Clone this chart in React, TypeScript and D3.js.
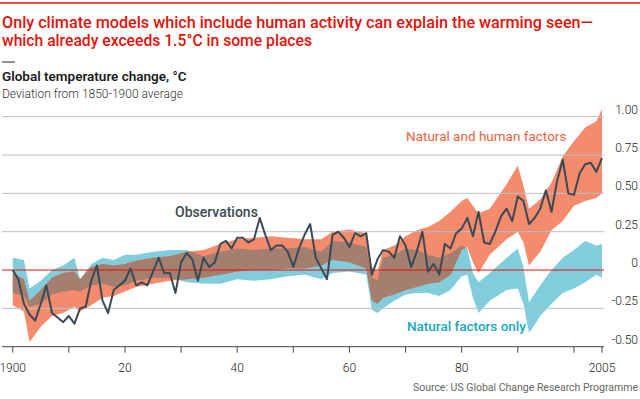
import React from "react";
import * as d3 from "d3";

const obsYears = d3.range(1900, 2006);
const obsValues = [
  0.0, -0.06, -0.22, -0.29, -0.33, -0.22, -0.1, -0.28, -0.31, -0.34,
  -0.3, -0.35, -0.25, -0.24, -0.07, 0.03, -0.2, -0.28, -0.13, -0.1,
  -0.07, 0.01, -0.1, -0.08, -0.1, -0.01, 0.08, -0.02, -0.02, -0.15,
  0.05, 0.11, 0.07, -0.07, 0.08, 0.02, 0.05, 0.17, 0.19, 0.14,
  0.21, 0.21, 0.18, 0.2, 0.34, 0.23, 0.13, 0.16, 0.16, 0.12,
  0.02, 0.14, 0.23, 0.3, 0.08, 0.01, -0.06, 0.23, 0.25, 0.21,
  0.15, 0.24, 0.22, 0.24, -0.03, 0.07, 0.13, 0.12, 0.08, 0.22,
  0.16, 0.02, 0.12, 0.25, -0.01, 0.04, -0.03, 0.17, 0.14, 0.24,
  0.27, 0.34, 0.22, 0.38, 0.18, 0.17, 0.25, 0.35, 0.4, 0.32,
  0.48, 0.45, 0.3, 0.34, 0.4, 0.52, 0.38, 0.58, 0.72, 0.5,
  0.49, 0.63, 0.69, 0.7, 0.64, 0.73,
];

// model ranges, sampled at these years
const bandYears = [
  1900, 1902, 1903, 1905, 1907, 1909, 1911, 1912, 1914, 1916, 1918, 1920, 1922,
  1925, 1928, 1931, 1934, 1937, 1940, 1943, 1946, 1949, 1952, 1955, 1957, 1960,
  1963, 1964, 1965, 1966, 1968, 1970, 1972, 1974, 1976, 1978, 1980, 1981, 1982,
  1983, 1985, 1988, 1990, 1991, 1992, 1994, 1996, 1998, 2000, 2002, 2004, 2005,
];
const humanLow = [
  -0.23, -0.27, -0.47, -0.37, -0.3, -0.28, -0.24, -0.27, -0.23, -0.18, -0.17, -0.14, -0.11,
  -0.09, -0.07, -0.06, -0.05, -0.03, -0.01, 0.0, 0.0, 0.01, 0.01, 0.03, 0.065, 0.05,
  0.01, -0.2, -0.22, -0.18, -0.16, -0.13, -0.11, -0.09, -0.08, -0.03, 0.13, 0.15, 0.05,
  -0.02, 0.1, 0.2, 0.25, 0.18, 0.03, 0.12, 0.26, 0.32, 0.42, 0.45, 0.47, 0.5,
];
const humanHigh = [
  -0.02, -0.06, -0.2, -0.13, -0.05, -0.02, -0.01, -0.06, 0.02, 0.04, 0.03, 0.04, 0.06,
  0.08, 0.09, 0.12, 0.13, 0.17, 0.2, 0.21, 0.22, 0.21, 0.2, 0.2, 0.25, 0.265,
  0.24, 0.02, -0.01, 0.13, 0.16, 0.22, 0.26, 0.28, 0.32, 0.38, 0.45, 0.47, 0.42,
  0.37, 0.4, 0.56, 0.68, 0.55, 0.4, 0.46, 0.57, 0.74, 0.84, 0.93, 0.97, 1.05,
];
const naturalLow = [
  -0.15, -0.17, -0.24, -0.22, -0.16, -0.14, -0.13, -0.14, -0.1, -0.09, -0.11, -0.1, -0.07,
  -0.05, -0.05, -0.08, -0.09, -0.09, -0.06, -0.07, -0.06, -0.04, -0.03, -0.06, -0.02, -0.01,
  -0.03, -0.26, -0.28, -0.25, -0.2, -0.16, -0.15, -0.15, -0.17, -0.13, -0.04, -0.03, -0.18,
  -0.28, -0.2, -0.13, -0.12, -0.22, -0.41, -0.3, -0.22, -0.15, -0.12, -0.08, -0.03, -0.05,
];
const naturalHigh = [
  0.08, 0.065, -0.12, -0.07, 0.0, 0.03, 0.08, -0.06, 0.04, 0.08, 0.065, 0.1, 0.1,
  0.12, 0.13, 0.13, 0.09, 0.12, 0.14, 0.13, 0.14, 0.14, 0.15, 0.12, 0.19, 0.18,
  0.15, -0.05, -0.065, 0.08, 0.1, 0.14, 0.13, 0.1, 0.08, 0.11, 0.16, 0.14, -0.02,
  -0.08, -0.02, 0.08, 0.14, 0.02, -0.21, -0.1, 0.0, 0.08, 0.13, 0.19, 0.16, 0.17,
];

const yTicks = [1.0, 0.75, 0.5, 0.25, 0, -0.25, -0.5];
const yTickLabels = ["1.00", "0.75", "0.50", "0.25", "0", "-0.25", "-0.50"];
const xTicks = [1900, 1910, 1920, 1930, 1940, 1950, 1960, 1970, 1980, 1990, 2000, 2005];
const xLabelYears = [1900, 1920, 1940, 1960, 1980, 2005];
const xLabels = ["1900", "20", "40", "60", "80", "2005"];

const W = 640;
const H = 399;
const FONT = "Roboto, 'Open Sans', sans-serif";

export default function App() {
  const x = d3.scaleLinear().domain([1900, 2005]).range([12.7, 602]);
  const y = d3.scaleLinear().domain([-0.5, 1.0]).range([346.7, 116.7]);

  const human = bandYears.map((yr, i) => ({ yr, lo: humanLow[i], hi: humanHigh[i] }));
  const natural = bandYears.map((yr, i) => ({ yr, lo: naturalLow[i], hi: naturalHigh[i] }));
  const obs = obsYears.map((yr, i) => ({ yr, v: obsValues[i] }));

  const band = d3
    .area<{ yr: number; lo: number; hi: number }>()
    .x((d) => x(d.yr))
    .y0((d) => y(d.lo))
    .y1((d) => y(d.hi));
  const line = d3
    .line<{ yr: number; v: number }>()
    .x((d) => x(d.yr))
    .y((d) => y(d.v));

  return (
    <svg
      width={W}
      height={H}
      style={{ position: "absolute", left: 0, top: 0, background: "#fff" }}
      fontFamily={FONT}
    >
      <defs>
        <clipPath id="natClip">
          <path d={band(natural) || ""} />
        </clipPath>
      </defs>
      <line x1={0} x2={W} y1={3} y2={3} stroke="#e3120b" strokeWidth={1.5} />
      <text x={2} y={28} fontSize={16} fill="#e3120b" fontWeight={500} textLength={591} lengthAdjust="spacingAndGlyphs">
        Only climate models which include human activity can explain the warming seen—
      </text>
      <text x={2} y={46} fontSize={16} fill="#e3120b" fontWeight={500} textLength={310} lengthAdjust="spacingAndGlyphs">
        which already exceeds 1.5°C in some places
      </text>
      <line x1={2} x2={15} y1={62} y2={62} stroke="#222" strokeWidth={1} />
      <text x={2} y={81} fontSize={13.5} fontWeight={600} fill="#1a1a1a">
        Global temperature change, °C
      </text>
      <text x={2} y={98} fontSize={12} fontWeight={300} fill="#333">
        Deviation from 1850-1900 average
      </text>

      <path d={band(natural) || ""} fill="#82cddb" />
      <path d={band(human) || ""} fill="#f38b6c" />
      <path d={band(human) || ""} fill="#a47e6f" clipPath="url(#natClip)" />

      {yTicks.map((t) => (
        <line
          key={t}
          x1={2}
          x2={604}
          y1={y(t)}
          y2={y(t)}
          stroke={t === 0 ? "#e3120b" : t === -0.5 ? "#3d4750" : "#b3c2cc"}
          strokeWidth={1}
        />
      ))}
      {yTicks.map((t, i) => (
        <text key={t} x={638} y={y(t) - 3} textAnchor="end" fontSize={12} fontWeight={300} fill="#222">
          {yTickLabels[i]}
        </text>
      ))}
      {xTicks.map((t) => (
        <line key={t} x1={x(t)} x2={x(t)} y1={y(-0.5)} y2={y(-0.5) + 6} stroke="#3d4750" />
      ))}
      {xLabelYears.map((t, i) => (
        <text key={t} x={x(t)} y={372} textAnchor="middle" fontSize={12} fontWeight={300} fill="#222">
          {xLabels[i]}
        </text>
      ))}

      <path d={line(obs) || ""} fill="none" stroke="#3a4953" strokeWidth={2} strokeLinejoin="round" />

      <text x={175} y={217} fontSize={14} fontWeight={500} fill="#3a4953">
        Observations
      </text>
      <text x={406} y={141} fontSize={13.5} fill="#f0603c">
        Natural and human factors
      </text>
      <text x={407} y={331} fontSize={13.5} fontWeight={500} fill="#17a8c0">
        Natural factors only
      </text>
      <text x={638} y={391} textAnchor="end" fontSize={10.5} fill="#666">
        Source: US Global Change Research Programme
      </text>
    </svg>
  );
}
